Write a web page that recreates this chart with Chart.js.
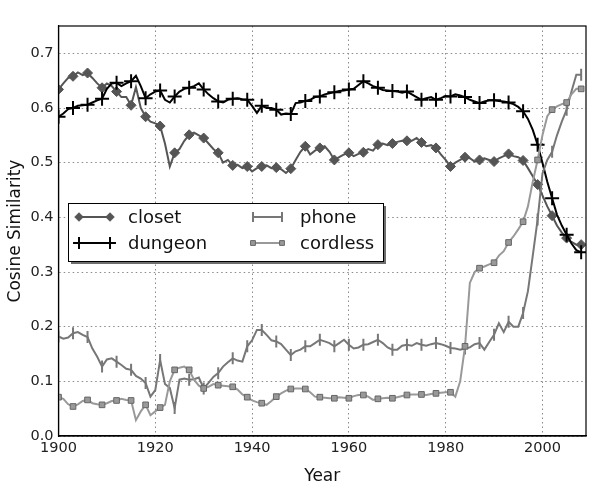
<!DOCTYPE html>
<html>
<head>
<meta charset="utf-8">
<script src="https://cdn.jsdelivr.net/npm/chart.js@4/dist/chart.umd.min.js"></script>
<style>
html, body { margin: 0; padding: 0; background: #fff; }
</style>
</head>
<body>
<canvas id="chart" width="600" height="487"></canvas>
<script>
const firstYear = 1900;
const xTicks = [1900, 1920, 1940, 1960, 1980, 2000];
const yTicks = [0.0, 0.1, 0.2, 0.3, 0.4, 0.5, 0.6, 0.7];
const names = ['closet', 'dungeon', 'phone', 'cordless'];

// one value per year, 1900..2008
const closet = [
    0.634, 0.645, 0.655, 0.658, 0.665, 0.660, 0.664, 0.655, 0.645, 0.637,
    0.645, 0.640, 0.630, 0.620, 0.620, 0.605, 0.638, 0.600, 0.584, 0.575,
    0.572, 0.567, 0.535, 0.493, 0.518, 0.525, 0.540, 0.551, 0.555, 0.550,
    0.545, 0.535, 0.525, 0.518, 0.500, 0.505, 0.495, 0.496, 0.490, 0.493,
    0.484, 0.490, 0.493, 0.495, 0.490, 0.491, 0.488, 0.481, 0.489, 0.505,
    0.520, 0.530, 0.515, 0.522, 0.527, 0.530, 0.520, 0.505, 0.510, 0.515,
    0.518, 0.512, 0.516, 0.519, 0.525, 0.522, 0.533, 0.535, 0.532, 0.535,
    0.538, 0.540, 0.540, 0.540, 0.545, 0.537, 0.530, 0.532, 0.527, 0.515,
    0.505, 0.493, 0.500, 0.505, 0.510, 0.508, 0.502, 0.505, 0.508, 0.505,
    0.502, 0.508, 0.512, 0.516, 0.512, 0.510, 0.504, 0.490, 0.475, 0.460,
    0.440, 0.420, 0.403, 0.385, 0.372, 0.362, 0.355, 0.350, 0.350
];
const dungeon = [
    0.584, 0.590, 0.598, 0.600, 0.604, 0.605, 0.606, 0.610, 0.614, 0.617,
    0.635, 0.645, 0.646, 0.640, 0.645, 0.649, 0.659, 0.640, 0.618, 0.625,
    0.630, 0.632, 0.615, 0.610, 0.621, 0.630, 0.635, 0.637, 0.640, 0.645,
    0.634, 0.625, 0.618, 0.612, 0.610, 0.615, 0.617, 0.618, 0.616, 0.615,
    0.604, 0.591, 0.604, 0.600, 0.600, 0.597, 0.588, 0.590, 0.589, 0.609,
    0.610, 0.613, 0.615, 0.620, 0.621, 0.625, 0.627, 0.629, 0.631, 0.632,
    0.634, 0.635, 0.642, 0.649, 0.645, 0.640, 0.637, 0.633, 0.632, 0.631,
    0.630, 0.628, 0.630, 0.625, 0.620, 0.615, 0.618, 0.620, 0.615, 0.618,
    0.622, 0.621, 0.625, 0.623, 0.620, 0.615, 0.612, 0.609, 0.612, 0.614,
    0.614, 0.613, 0.612, 0.610, 0.607, 0.602, 0.594, 0.580, 0.560, 0.533,
    0.500, 0.465, 0.435, 0.405, 0.385, 0.368, 0.352, 0.340, 0.336
];
const phone = [
    0.182, 0.178, 0.180, 0.188, 0.190, 0.185, 0.181, 0.160, 0.145, 0.127,
    0.140, 0.142, 0.136, 0.130, 0.123, 0.121, 0.110, 0.105, 0.097, 0.072,
    0.084, 0.139, 0.095, 0.088, 0.051, 0.103, 0.105, 0.103, 0.104, 0.107,
    0.087, 0.097, 0.108, 0.115, 0.127, 0.135, 0.142, 0.138, 0.136, 0.164,
    0.175, 0.194, 0.194, 0.185, 0.175, 0.173, 0.168, 0.158, 0.148, 0.155,
    0.158, 0.164, 0.164, 0.170, 0.176, 0.173, 0.170, 0.164, 0.170, 0.176,
    0.167, 0.160, 0.162, 0.167, 0.168, 0.172, 0.176, 0.170, 0.162, 0.158,
    0.158, 0.165, 0.167, 0.165, 0.170, 0.167, 0.165, 0.168, 0.170, 0.168,
    0.165, 0.161, 0.160, 0.158, 0.160, 0.162, 0.168, 0.170, 0.158, 0.172,
    0.185, 0.206, 0.190, 0.209, 0.200, 0.200, 0.225, 0.265, 0.330, 0.396,
    0.480, 0.505, 0.520, 0.550, 0.575, 0.597, 0.630, 0.661, 0.661
];
const cordless = [
    0.071, 0.068, 0.058, 0.054, 0.058, 0.064, 0.066, 0.060, 0.058, 0.057,
    0.060, 0.064, 0.065, 0.068, 0.066, 0.065, 0.029, 0.045, 0.057, 0.038,
    0.045, 0.052, 0.057, 0.100, 0.121, 0.125, 0.127, 0.121, 0.103, 0.092,
    0.087, 0.090, 0.095, 0.093, 0.092, 0.091, 0.090, 0.085, 0.076, 0.071,
    0.065, 0.062, 0.060, 0.057, 0.064, 0.072, 0.078, 0.083, 0.086, 0.087,
    0.087, 0.086, 0.080, 0.072, 0.071, 0.070, 0.069, 0.069, 0.071, 0.070,
    0.069, 0.073, 0.075, 0.075, 0.072, 0.066, 0.068, 0.069, 0.070, 0.069,
    0.071, 0.073, 0.075, 0.076, 0.076, 0.076, 0.075, 0.077, 0.078, 0.079,
    0.080, 0.080, 0.072, 0.100, 0.164, 0.280, 0.300, 0.307, 0.310, 0.314,
    0.317, 0.330, 0.338, 0.354, 0.365, 0.378, 0.392, 0.420, 0.465, 0.505,
    0.550, 0.585, 0.597, 0.603, 0.607, 0.610, 0.625, 0.635, 0.635
];

const FONT = 'DejaVu Sans';

// line + marker look of each series
const styles = [
    { color: '#555555', fill: '#555555', pointStyle: 'rectRot', radius: 5, rotation: 0, lw: 2, pbw: 1 },
    { color: '#000000', fill: '#000000', pointStyle: 'cross', radius: 7, rotation: 0, lw: 2, pbw: 2 },
    { color: '#777777', fill: '#777777', pointStyle: 'line', radius: 6, rotation: 90, lw: 2, pbw: 2 },
    { color: '#999999', fill: '#999999', pointStyle: 'rect', radius: 4, rotation: 0, lw: 2, pbw: 1, border: '#666666' }
];

function toPoints(values) {
    return values.map((v, i) => ({ x: firstYear + i, y: v }));
}

const series = [closet, dungeon, phone, cordless];
const datasets = series.map((vals, i) => {
    const s = styles[i];
    return {
        label: names[i],
        data: toPoints(vals),
        borderColor: s.color,
        backgroundColor: s.fill,
        borderWidth: s.lw,
        tension: 0,
        pointStyle: s.pointStyle,
        rotation: s.rotation,
        pointBorderColor: s.border || s.color,
        pointBackgroundColor: s.fill,
        pointBorderWidth: s.pbw,
        pointRadius: ctx => (ctx.dataIndex % 3 === 0 ? s.radius : 0),
        pointHoverRadius: 0,
        order: 4 - i
    };
});

// legend box drawn inside the plot, two columns
const legendBox = {
    id: 'legendBox',
    afterDatasetsDraw(chart) {
        const ctx = chart.ctx;
        const x = 68, y = 203, w = 315, h = 58;
        ctx.save();
        ctx.fillStyle = '#6e6e6e';
        ctx.fillRect(x + 3, y + 3, w, h);
        ctx.fillStyle = '#ffffff';
        ctx.fillRect(x, y, w, h);
        ctx.strokeStyle = '#000000';
        ctx.lineWidth = 1;
        ctx.strokeRect(x + 0.5, y + 0.5, w, h);

        const cols = [{ x0: 79, x1: 110, tx: 128 }, { x0: 253, x1: 282, tx: 300 }];
        const rows = [217, 243];
        names.forEach((name, i) => {
            const c = cols[Math.floor(i / 2)];
            const ry = rows[i % 2];
            const s = styles[i];
            ctx.strokeStyle = s.color;
            ctx.lineWidth = s.lw;
            ctx.beginPath();
            ctx.moveTo(c.x0, ry);
            ctx.lineTo(c.x1, ry);
            ctx.stroke();
            [c.x0, c.x1].forEach(px => {
                ctx.fillStyle = s.fill;
                ctx.strokeStyle = s.border || s.color;
                ctx.lineWidth = s.pbw;
                Chart.helpers.drawPoint(ctx, {
                    pointStyle: s.pointStyle, radius: s.radius * 0.85,
                    rotation: s.rotation, borderWidth: s.pbw
                }, px, ry);
            });
            ctx.fillStyle = '#111111';
            ctx.font = '18px "' + FONT + '"';
            ctx.textAlign = 'left';
            ctx.textBaseline = 'middle';
            ctx.fillText(name, c.tx, ry + 1);
        });
        ctx.restore();
    }
};

new Chart(document.getElementById('chart').getContext('2d'), {
    type: 'line',
    data: { datasets: datasets },
    options: {
        responsive: false,
        animation: false,
        events: [],
        layout: { padding: { top: 26, right: 14, left: 0, bottom: 0 } },
        plugins: {
            legend: { display: false },
            tooltip: { enabled: false }
        },
        scales: {
            x: {
                type: 'linear',
                min: 1900,
                max: 2009,
                afterBuildTicks: axis => { axis.ticks = xTicks.map(v => ({ value: v })); },
                afterFit: axis => { axis.height = 51; },
                border: { display: true, color: '#000', width: 1.2, dash: [1.5, 3] },
                grid: { color: '#8a8a8a', lineWidth: 1, drawTicks: false },
                ticks: {
                    padding: 4,
                    color: '#222',
                    font: { family: FONT, size: 14.5 },
                    maxRotation: 0,
                    callback: v => String(v)
                },
                title: {
                    display: true,
                    text: 'Year',
                    color: '#111',
                    font: { family: FONT, size: 17 },
                    padding: { top: 2, bottom: 0 }
                }
            },
            y: {
                min: 0,
                max: 0.75,
                afterBuildTicks: axis => { axis.ticks = yTicks.map(v => ({ value: v })); },
                afterFit: axis => { axis.width = 58.5; },
                border: { display: true, color: '#000', width: 1.2, dash: [1.5, 3] },
                grid: { color: '#8a8a8a', lineWidth: 1, drawTicks: false },
                ticks: {
                    padding: 5,
                    color: '#222',
                    font: { family: FONT, size: 14.5 },
                    callback: v => v.toFixed(1)
                },
                title: {
                    display: true,
                    text: 'Cosine Similarity',
                    color: '#111',
                    font: { family: FONT, size: 17 },
                    padding: { top: 5, bottom: 0 }
                }
            }
        }
    },
    plugins: [legendBox, {
        id: 'frame',
        afterDatasetsDraw(chart) {
            const a = chart.chartArea, ctx = chart.ctx;
            ctx.save();
            ctx.strokeStyle = '#000';
            ctx.lineWidth = 1.2;
            ctx.strokeRect(a.left, a.top, a.right - a.left, a.bottom - a.top);
            ctx.restore();
        }
    }]
});
</script>
</body>
</html>
